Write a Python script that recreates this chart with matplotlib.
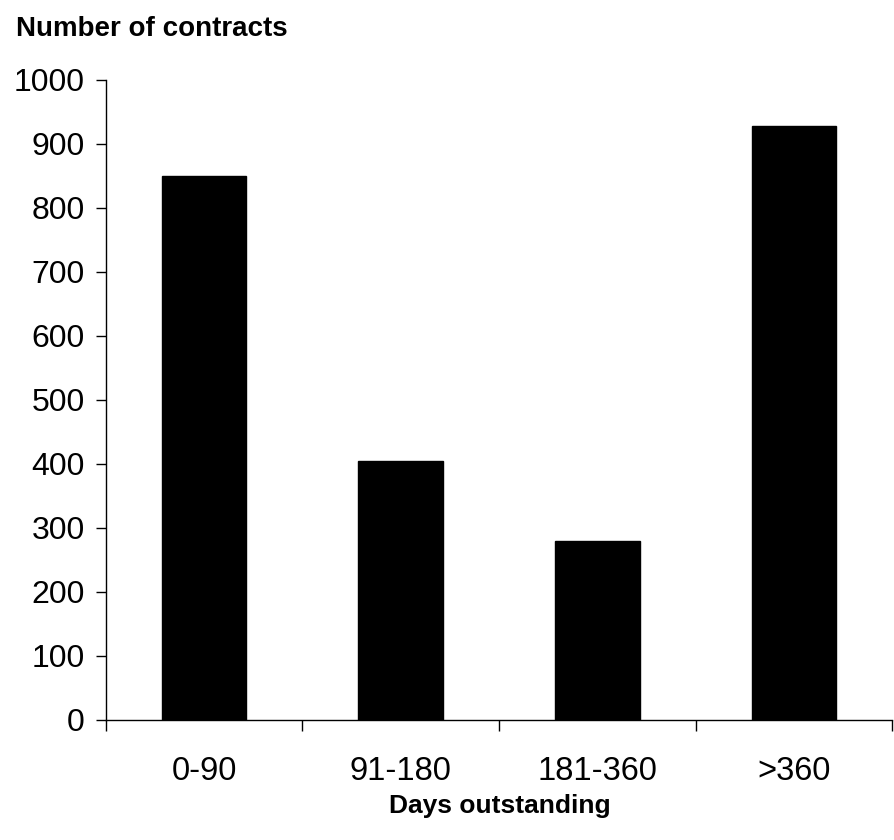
import matplotlib
matplotlib.use("Agg")
import matplotlib.pyplot as plt

categories = ["0-90", "91-180", "181-360", ">360"]
values = [850, 405, 280, 928]
y_ticks = list(range(0, 1001, 100))

plt.rcParams['font.family'] = ['Liberation Sans', 'DejaVu Sans']

fig = plt.figure(figsize=(8.95, 8.4), dpi=100)
ax = fig.add_axes([0.118, 0.143, 0.879, 0.762])

x = list(range(len(categories)))
ax.bar(x, values, width=0.43, color="black", edgecolor="black")

ax.set_xlim(-0.5, len(categories) - 0.5)
ax.set_ylim(0, 1000)
ax.set_yticks(y_ticks)
ax.set_yticklabels([str(t) for t in y_ticks], fontsize=23)

ax.set_xticks(x)
ax.set_xticklabels(categories, fontsize=23.5)
ax.tick_params(axis='x', which='major', length=0, pad=26)
ax.set_xticks([i - 0.5 for i in range(len(categories) + 1)], minor=True)
ax.tick_params(axis='x', which='minor', length=8, width=1, direction='out')
ax.tick_params(axis='y', length=7, width=1, direction='out', pad=8)

for s in ['top', 'right']:
    ax.spines[s].set_visible(False)
for s in ['left', 'bottom']:
    ax.spines[s].set_linewidth(1)

fig.text(0.018, 0.965, "Number of contracts", fontsize=20, fontweight='bold', ha='left', va='center')
fig.text(0.558, 0.040, "Days outstanding", fontsize=19, fontweight='bold', ha='center', va='center')

fig.savefig("out.png", dpi=100)
